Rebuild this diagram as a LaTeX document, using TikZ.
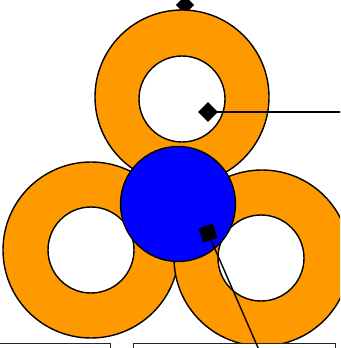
\documentclass[tikz,border=0pt]{standalone}
\definecolor{ringorange}{RGB}{255,153,0}
\definecolor{coreblue}{RGB}{0,0,255}
\begin{document}
\begin{tikzpicture}[x=1pt,y=-1pt]
\tikzset{
  ringouter/.style={circle, draw=black, line width=1.4pt, fill=ringorange, minimum size=#1, inner sep=0pt},
  ringhole/.style={circle, draw=black, line width=1.4pt, fill=white, minimum size=86pt, inner sep=0pt},
  core/.style={circle, draw=black, line width=1.4pt, fill=coreblue, minimum size=115pt, inner sep=0pt},
  marker/.style={fill=black, inner sep=0pt, minimum size=#1},
  lead/.style={line width=1.4pt, draw=black},
  labelbox/.style={draw=black!85, line width=0.9pt, fill=white, inner sep=0pt, anchor=north west}
}
\useasboundingbox (0,0) rectangle (340,348);
\clip (0,0) rectangle (340,348);
% top marker (beneath the top ring)
\node[marker=13pt, rotate=45] (m1) at (185,5) {};
% rings
\node[ringouter=174pt] (r1) at (182,97) {};
\node[ringhole] (h1) at (182,99) {};
\node[ringouter=176pt] (r2) at (91,250) {};
\node[ringhole] (h2) at (91,250) {};
\node[ringouter=176pt] (r3) at (262,258) {};
\node[ringhole] (h3) at (261,258) {};
% core
\node[core] (c) at (178,204) {};
% bottom boxes
\node[labelbox, minimum width=115pt, minimum height=40pt] (b1) at (-5,343) {};
\node[labelbox, minimum width=202pt, minimum height=40pt] (b2) at (133,343) {};
% markers and leads
\node[marker=14pt, rotate=45] (m2) at (208,112) {};
\coordinate (e2) at (341,112);
\draw[lead] (m2.center) -- (e2);
\node[marker=15pt, rotate=18] (m3) at (208,233) {};
\coordinate (e3) at (259,350);
\draw[lead] (m3.center) -- (e3);
\end{tikzpicture}
\end{document}
